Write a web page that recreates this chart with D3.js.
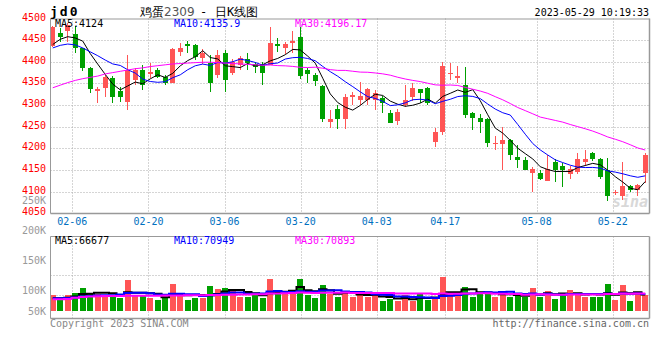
<!DOCTYPE html>
<html><head><meta charset="utf-8">
<script src="https://cdn.jsdelivr.net/npm/d3@7"></script>
<style>body{margin:0;background:#fff}svg{display:block}text{font-family:"DejaVu Sans Mono",monospace}</style>
</head><body><svg id="c" width="660" height="360"></svg>
<script>
const dates = ["02-01","02-02","02-03","02-06","02-07","02-08","02-09","02-10","02-13","02-14","02-15","02-16","02-17","02-20","02-21","02-22","02-23","02-24","02-27","02-28",
"03-01","03-02","03-03","03-06","03-07","03-08","03-09","03-10","03-13","03-14","03-15","03-16","03-17","03-20","03-21","03-22","03-23","03-24","03-27","03-28","03-29","03-30","03-31",
"04-03","04-04","04-06","04-07","04-10","04-11","04-12","04-13","04-14","04-17","04-18","04-19","04-20","04-21","04-24","04-25","04-26","04-27","04-28",
"05-04","05-05","05-08","05-09","05-10","05-11","05-12","05-15","05-16","05-17","05-18","05-19","05-22","05-23","05-24","05-25","05-26","05-29"];
const open  = [4437,4466,4471,4464,4431,4385,4332,4339,4363,4333,4308,4358,4381,4371,4381,4366,4352,4423,4441,4439,4409,4398,4370,4420,4373,4393,4406,4396,4396,4393,4441,4433,4444,4458,4380,4369,4344,4262,4290,4267,4318,4312,4312,4312,4317,4282,4264,4300,4319,4336,4339,4215,4238,4372,4362,4346,4282,4269,4267,4209,4210,4219,4181,4173,4144,4144,4125,4169,4160,4141,4146,4169,4189,4175,4150,4098,4090,4113,4104,4144];
const high  = [4482,4477,4489,4482,4433,4389,4342,4369,4367,4342,4416,4385,4393,4397,4385,4369,4431,4444,4448,4441,4430,4416,4427,4427,4406,4413,4420,4400,4400,4481,4455,4445,4470,4481,4385,4375,4346,4289,4300,4325,4330,4354,4340,4335,4320,4288,4290,4346,4350,4338,4342,4247,4400,4397,4390,4389,4285,4280,4270,4228,4250,4221,4208,4180,4158,4150,4185,4175,4166,4160,4189,4196,4191,4177,4177,4104,4169,4115,4118,4190];
const low   = [4435,4446,4446,4421,4379,4329,4304,4319,4305,4308,4289,4346,4335,4362,4362,4346,4350,4413,4420,4405,4395,4331,4363,4331,4370,4380,4380,4375,4346,4393,4422,4418,4420,4360,4350,4345,4262,4247,4245,4245,4300,4300,4300,4289,4282,4258,4255,4295,4310,4304,4300,4204,4230,4358,4350,4269,4242,4235,4204,4196,4150,4173,4154,4150,4100,4127,4125,4123,4110,4130,4140,4160,4170,4130,4079,4093,4081,4100,4090,4119];
const close = [4480,4458,4485,4431,4385,4336,4336,4366,4319,4319,4381,4381,4346,4376,4366,4350,4429,4432,4437,4410,4420,4350,4416,4358,4400,4409,4398,4387,4373,4444,4437,4441,4448,4367,4372,4356,4267,4267,4267,4318,4323,4321,4336,4327,4304,4258,4285,4312,4339,4329,4304,4238,4390,4375,4367,4277,4269,4262,4213,4213,4219,4185,4172,4150,4152,4129,4152,4150,4150,4152,4175,4175,4175,4133,4090,4100,4113,4104,4115,4185];
const volume = [66600,48800,66600,76300,97100,70900,70900,66600,66600,55500,129200,63700,63700,55500,45800,55500,112500,66600,45800,55500,
55500,104100,91700,97100,87500,59600,59600,66600,52900,133400,76300,70900,87500,133400,66600,55500,108400,70900,59600,83300,
59600,70900,59600,66600,42900,50000,42900,66600,42900,70900,45800,52900,142900,80400,70900,101300,59600,80400,73800,59600,
73800,59600,66600,59600,97100,59600,84600,50000,70900,87500,76300,59600,59600,59600,112500,45800,108400,41700,80400,66600];
const ma5Head  = [4440,4452,4458,4455];
const ma10Head = [4432,4438,4441,4439,4432,4423,4414,4404,4395];
const ma30Head = [4340,4346,4352,4357,4361,4364,4367,4372,4375,4378,4381,4384,4386,4389,4391,4393,4395,4396,4397,4398,4399,4399,4398,4397,4396,4395,4394,4393,4392];
const vma5Head  = [53000,53000,55000,60000];
const vma10Head = [53000,53000,54000,56000,60000,63000,65000,66000,66000];
const vma30Head = [49000,49000,50000,55000,58000,60000,61000,62000,62000,63000,64000,64000,64000,64000,64000,65000,65000,65000,66000,66000,66000,67000,67000,68000,68000,69000,69000,70000,70000];
const priceTicks = [4500,4450,4400,4350,4300,4250,4200,4150,4100,4050];
const dateTicks = ["02-06","02-20","03-06","03-20","04-03","04-17","05-08","05-22"];
const volTicks = [250000,200000,150000,100000,50000];
const priceLegend = ["MA5:4124","MA10:4135.9","MA30:4196.17"];
const volLegend = ["MA5:66677","MA10:70949","MA30:70893"];
const lineColors = ["#000","#00f","#f0f"];

const svg = d3.select("#c");
const L=50.5, R=649.5, PT=18.5, PB=213.5, VT=236.5, VB=318.5;
const RED="#ff5555", GREEN="#00a000", GRID="#aaa", AX="#999";

const x = d3.scaleBand().domain(dates).range([49,649]).paddingInner(0);
const cx = d => x(d) + x.bandwidth()/2;
// date labels are spaced on their own index scale
const xt = d3.scaleLinear().domain([0,dates.length-1]).range([49.5,650.8]);
const tickX = d => xt(dates.indexOf(d));
const y = d3.scaleLinear().domain([4050,4500]).range([213.3,18.5]);
const yv = d3.scaleLinear().domain([0,100000]).range([311,287]);
const yvLab = d3.scaleLinear().domain([50000,100000,250000]).range([311,290.7,200.7]);

function ma(arr,n,head){return arr.map((v,i)=> i<head.length? head[i] : d3.mean(arr.slice(i-n+1,i+1)));}
const ma5=ma(close,5,ma5Head), ma10=ma(close,10,ma10Head), ma30=ma(close,30,ma30Head);
const vma5=ma(volume,5,vma5Head), vma10=ma(volume,10,vma10Head), vma30=ma(volume,30,vma30Head);
const up = i => close[i]>=open[i];

// grid
const g = svg.append("g").attr("stroke",GRID).attr("stroke-dasharray","1,2");
g.selectAll(".hg").data(priceTicks.filter(t=>t<4500&&t>4050)).join("line")
 .attr("x1",L).attr("x2",R).attr("y1",d=>Math.round(y(d))+0.5).attr("y2",d=>Math.round(y(d))+0.5);
g.selectAll(".vg").data(dateTicks).join("line")
 .attr("x1",d=>Math.round(tickX(d))+0.5).attr("x2",d=>Math.round(tickX(d))+0.5).attr("y1",PT).attr("y2",PB);
g.selectAll(".vg2").data(dateTicks).join("line")
 .attr("x1",d=>Math.round(tickX(d))+0.5).attr("x2",d=>Math.round(tickX(d))+0.5).attr("y1",VT).attr("y2",VB);
g.append("line").attr("x1",L).attr("x2",R).attr("y1",275.5).attr("y2",275.5);
g.append("line").attr("x1",L).attr("x2",R).attr("y1",295.5).attr("y2",295.5);

// watermark
svg.append("text").attr("x",648).attr("y",207).attr("text-anchor","end")
 .attr("font-family","DejaVu Sans").attr("font-style","italic").attr("font-weight","bold")
 .attr("font-size",15).attr("fill","#d8d8d8").text("sina");

// candles
const c = svg.append("g").attr("shape-rendering","crispEdges");
c.selectAll("line").data(dates).join("line")
 .attr("x1",d=>Math.round(cx(d)-2.5)+2.5).attr("x2",d=>Math.round(cx(d)-2.5)+2.5)
 .attr("y1",(d,i)=>y(high[i])).attr("y2",(d,i)=>y(low[i]))
 .attr("stroke",(d,i)=>up(i)?RED:GREEN);
c.selectAll("rect").data(dates).join("rect")
 .attr("x",d=>Math.round(cx(d)-2.5)).attr("width",5)
 .attr("y",(d,i)=>y(Math.max(open[i],close[i])))
 .attr("height",(d,i)=>Math.max(1,Math.abs(y(open[i])-y(close[i]))))
 .attr("fill",(d,i)=>up(i)?RED:GREEN);

// MA lines
[ma5,ma10,ma30].forEach((m,k)=>{
  svg.append("path").datum(m).attr("fill","none").attr("stroke",lineColors[k]).attr("stroke-width",1)
   .attr("d",d3.line().x((v,i)=>cx(dates[i])).y(v=>y(v)));
});

// volume bars
svg.append("g").attr("shape-rendering","crispEdges").selectAll("rect").data(dates).join("rect")
 .attr("x",d=>Math.round(cx(d)-3)).attr("width",6)
 .attr("y",(d,i)=>yv(volume[i])).attr("height",(d,i)=>yv(0)-yv(volume[i]))
 .attr("fill",(d,i)=>up(i)?RED:GREEN);
[vma5,vma10,vma30].forEach((m,k)=>{
  svg.append("path").datum(m).attr("fill","none").attr("stroke",lineColors[k]).attr("stroke-width",2)
   .attr("d",d3.line().curve(d3.curveStep).x((v,i)=>cx(dates[i])).y(v=>yv(v)));
});

// frames
const f = svg.append("g").attr("stroke",AX).attr("fill","none");
f.append("line").attr("x1",L).attr("x2",R).attr("y1",PT+0.5).attr("y2",PT+0.5);
f.append("line").attr("x1",L).attr("x2",L).attr("y1",PT).attr("y2",PB);
f.append("line").attr("x1",R).attr("x2",R).attr("y1",PT).attr("y2",PB).attr("stroke-width",1.5);
f.append("line").attr("x1",L).attr("x2",R).attr("y1",PB).attr("y2",PB).attr("stroke-width",1.5);
f.append("line").attr("x1",L).attr("x2",R).attr("y1",VT).attr("y2",VT);
f.append("line").attr("x1",L).attr("x2",L).attr("y1",VT).attr("y2",VB);
f.append("line").attr("x1",R).attr("x2",R).attr("y1",VT).attr("y2",VB).attr("stroke-width",1.5);
f.append("line").attr("x1",L).attr("x2",R).attr("y1",VB).attr("y2",VB).attr("stroke-width",1.5);

// axis labels
svg.append("g").selectAll("text").data(priceTicks).join("text")
 .attr("x",46).attr("y",d=>y(d)+2).attr("text-anchor","end").attr("font-size",10).attr("fill","#f00").text(d=>d);
svg.append("g").selectAll("text").data(volTicks).join("text")
 .attr("x",46).attr("y",d=>yvLab(d)+3.5).attr("text-anchor","end").attr("font-size",10).attr("fill","#999").text(d=>(d/1000)+"K");
svg.append("g").selectAll("text").data(dateTicks).join("text")
 .attr("x",d=>tickX(d)).attr("y",225).attr("text-anchor","middle").attr("font-size",10).attr("fill","#0070c0").text(d=>d);

// legends
const legX=[55,174,295];
priceLegend.forEach((t,k)=>svg.append("text").attr("x",legX[k]).attr("y",26.5).attr("font-size",10).attr("fill",lineColors[k]).text(t));
volLegend.forEach((t,k)=>svg.append("text").attr("x",legX[k]).attr("y",243.5).attr("font-size",10).attr("fill",lineColors[k]).text(t));

// titles
svg.append("text").attr("x",50).attr("y",16).attr("font-size",13).attr("font-weight","bold").attr("letter-spacing",2).text("jd0");
svg.append("text").attr("x",140).attr("y",16).attr("font-family","Noto Sans CJK SC").attr("font-size",12).attr("fill","#000").text("鸡蛋").append("tspan").attr("fill","#555").attr("font-family","DejaVu Sans").text("2309");
svg.append("text").attr("x",200).attr("y",16).attr("font-size",12).text("-");
svg.append("text").attr("x",215).attr("y",16).attr("font-family","Noto Sans CJK SC").attr("font-size",12).text("日K线图");
svg.append("text").attr("x",649).attr("y",16).attr("text-anchor","end").attr("font-size",10).text("2023-05-29 10:19:33");
svg.append("text").attr("x",50).attr("y",327).attr("font-size",10).attr("fill","#888").text("Copyright 2023 SINA.COM");
svg.append("text").attr("x",649).attr("y",327).attr("text-anchor","end").attr("font-size",10).attr("fill","#666").text("http://finance.sina.com.cn");
</script></body></html>
